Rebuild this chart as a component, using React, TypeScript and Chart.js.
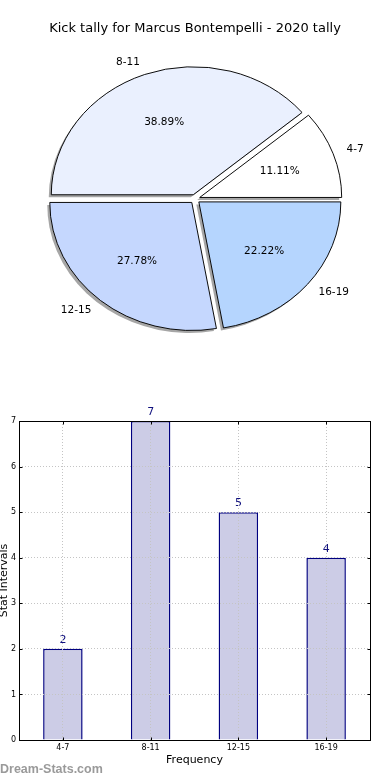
import React, { useEffect, useRef } from "react";
import { Chart, registerables } from "chart.js";

Chart.register(...registerables);

// ---------- data ----------
const TITLE = "Kick tally for Marcus Bontempelli - 2020 tally";
const categories = ["4-7", "8-11", "12-15", "16-19"];
const counts = [2, 7, 5, 4];
const pieColors = ["#ffffff", "#eaf0fe", "#c5d7fe", "#b5d5fe"];
const yTickValues = [0, 1, 2, 3, 4, 5, 6, 7];
const Y_LABEL = "Stat Intervals";
const X_LABEL = "Frequency";
const WATERMARK = "Dream-Stats.com";

// ---------- styling ----------
const FONT = "'DejaVu Sans', sans-serif";
const ELLIPSE = 128 / 142;
const PIE_RADIUS = 142;
const EXPLODE_PX = 5;
const SHADOW_DX = -2.5;
const SHADOW_DY = 2.5;
const TICK_LEN = 3;

// matplotlib draws counter-clockwise from east; chart.js draws clockwise -> reverse order
const pieOrder = categories.map((_, i) => i).reverse();
const total = counts.reduce((a, b) => a + b, 0);

function arcGeom(arc: any) {
  const p = arc.getProps(["x", "y", "startAngle", "endAngle", "outerRadius"], true);
  const mid = (p.startAngle + p.endAngle) / 2;
  return { ...p, off: EXPLODE_PX, mid, r: p.outerRadius };
}

const piePlugin = {
  id: "pieDecor",
  afterDatasetsUpdate(chart: any) {
    const meta = chart.getDatasetMeta(0);
    meta.data.forEach((arc: any) => {
      if (arc.__exploded) return;
      const orig = arc.draw;
      arc.draw = function (ctx: CanvasRenderingContext2D, area: any) {
        const mid = (this.startAngle + this.endAngle) / 2;
        ctx.save();
        ctx.translate(Math.cos(mid) * EXPLODE_PX, Math.sin(mid) * EXPLODE_PX);
        orig.call(this, ctx, area);
        ctx.restore();
      };
      arc.__exploded = true;
    });
  },
  beforeDatasetsDraw(chart: any) {
    const ctx = chart.ctx;
    const ca = chart.chartArea;
    const cx = (ca.left + ca.right) / 2;
    const cy = (ca.top + ca.bottom) / 2;
    const meta = chart.getDatasetMeta(0);
    // shadow pass
    ctx.save();
    ctx.translate(SHADOW_DX, SHADOW_DY);
    ctx.translate(cx, cy);
    ctx.scale(1, ELLIPSE);
    ctx.translate(-cx, -cy);
    ctx.fillStyle = "#a6a6a6";
    meta.data.forEach((arc: any) => {
      const g = arcGeom(arc);
      const ox = g.x + Math.cos(g.mid) * g.off;
      const oy = g.y + Math.sin(g.mid) * g.off;
      ctx.beginPath();
      ctx.moveTo(ox, oy);
      ctx.arc(ox, oy, g.r, g.startAngle, g.endAngle);
      ctx.closePath();
      ctx.fill();
    });
    ctx.restore();
    // ellipse transform for the slices
    ctx.save();
    ctx.translate(cx, cy);
    ctx.scale(1, ELLIPSE);
    ctx.translate(-cx, -cy);
  },
  afterDatasetsDraw(chart: any) {
    chart.ctx.restore();
  },
  afterDraw(chart: any) {
    const ctx = chart.ctx;
    const ca = chart.chartArea;
    const cx = (ca.left + ca.right) / 2;
    const cy = (ca.top + ca.bottom) / 2;
    const meta = chart.getDatasetMeta(0);
    ctx.save();
    ctx.fillStyle = "#000";
    ctx.font = `13px ${FONT}`;
    ctx.textAlign = "center";
    ctx.textBaseline = "middle";
    ctx.fillText(TITLE, cx, 29);
    ctx.font = `10.5px ${FONT}`;
    meta.data.forEach((arc: any, j: number) => {
      const idx = pieOrder[j];
      const g = arcGeom(arc);
      const R = g.outerRadius;
      const c = Math.cos(g.mid);
      const s = Math.sin(g.mid);
      // percentage (pctdistance 0.6)
      const px = g.x + c * (g.off + 0.6 * R);
      const py = cy + s * (g.off + 0.6 * R) * ELLIPSE;
      ctx.textAlign = "center";
      ctx.fillText(((counts[idx] / total) * 100).toFixed(2) + "%", px, py);
      // category label (labeldistance 1.1)
      const lx = g.x + c * (g.off + 1.1 * R);
      const ly = cy + s * (g.off + 1.1 * R) * ELLIPSE;
      ctx.textAlign = c >= 0 ? "left" : "right";
      ctx.fillText(categories[idx], lx, ly);
    });
    ctx.restore();
  },
};

const barPlugin = {
  id: "barDecor",
  afterDatasetsDraw(chart: any) {
    const ctx = chart.ctx;
    const meta = chart.getDatasetMeta(0);
    ctx.save();
    ctx.fillStyle = "#10107e";
    ctx.font = `11px ${FONT}`;
    ctx.textAlign = "center";
    ctx.textBaseline = "alphabetic";
    meta.data.forEach((bar: any, i: number) => {
      ctx.fillText(String(counts[i]), bar.x, bar.y - 6);
    });
    ctx.restore();
  },
  afterDraw(chart: any) {
    const ctx = chart.ctx;
    const ca = chart.chartArea;
    const L = Math.round(ca.left) + 0.5;
    const T = Math.round(ca.top) + 0.5;
    const Rr = Math.round(ca.right) + 0.5;
    const B = Math.round(ca.bottom) + 0.5;
    ctx.save();
    ctx.strokeStyle = "#000";
    ctx.lineWidth = 1;
    // inward tick marks on all four sides (matplotlib classic style)
    ctx.beginPath();
    const xs = chart.scales.x;
    categories.forEach((_, i) => {
      const px = Math.round(xs.getPixelForValue(i)) + 0.5;
      ctx.moveTo(px, B);
      ctx.lineTo(px, B - TICK_LEN);
      ctx.moveTo(px, T);
      ctx.lineTo(px, T + TICK_LEN);
    });
    const ys = chart.scales.y;
    yTickValues.forEach((v) => {
      const py = Math.round(ys.getPixelForValue(v)) + 0.5;
      ctx.moveTo(L, py);
      ctx.lineTo(L + TICK_LEN, py);
      ctx.moveTo(Rr, py);
      ctx.lineTo(Rr - TICK_LEN, py);
    });
    ctx.stroke();
    ctx.strokeRect(L, T, Rr - L, B - T);
    ctx.restore();
  },
};

export default function App() {
  const pieRef = useRef<HTMLCanvasElement>(null);
  const barRef = useRef<HTMLCanvasElement>(null);

  useEffect(() => {
    Chart.defaults.font.family = FONT;
    Chart.defaults.color = "#000";

    const pie = new Chart(pieRef.current as HTMLCanvasElement, {
      type: "pie",
      data: {
        labels: pieOrder.map((i) => categories[i]),
        datasets: [
          {
            data: pieOrder.map((i) => counts[i]),
            backgroundColor: pieOrder.map((i) => pieColors[i]),
            borderColor: "#000",
            borderWidth: 1,
            offset: 0,
            hoverOffset: 0,
            radius: PIE_RADIUS,
          } as any,
        ],
      },
      options: {
        animation: false,
        responsive: false,
        maintainAspectRatio: false,
        events: [],
        rotation: 90,
        layout: { padding: 0 },
        plugins: { legend: { display: false }, tooltip: { enabled: false }, title: { display: false } },
      } as any,
      plugins: [piePlugin],
    });

    const bar = new Chart(barRef.current as HTMLCanvasElement, {
      type: "bar",
      data: {
        labels: categories,
        datasets: [
          {
            data: counts,
            backgroundColor: "#ccccE6",
            borderColor: "#000080",
            borderWidth: 1.5,
            borderSkipped: "start",
            barPercentage: 0.45,
            categoryPercentage: 1,
          } as any,
        ],
      },
      options: {
        animation: false,
        responsive: false,
        maintainAspectRatio: false,
        events: [],
        layout: { padding: { top: 21, right: 20, left: 0, bottom: 0 } },
        plugins: { legend: { display: false }, tooltip: { enabled: false } },
        scales: {
          x: {
            grid: { display: true, offset: false, color: "#c4c4c4", lineWidth: 1, drawTicks: false, z: 1 },
            border: { display: false, dash: [1, 2] },
            ticks: { color: "#000", font: { size: 8 }, padding: 3, maxRotation: 0, autoSkip: false },
            title: {
              display: true,
              text: X_LABEL,
              color: "#000",
              font: { size: 11 },
              padding: { top: 0, bottom: 13.4 },
            },
            afterFit: (s: any) => {
              s.height = 40;
            },
          },
          y: {
            min: yTickValues[0],
            max: yTickValues[yTickValues.length - 1],
            afterBuildTicks: (s: any) => {
              s.ticks = yTickValues.map((v) => ({ value: v }));
            },
            grid: { display: true, color: "#c4c4c4", lineWidth: 1, drawTicks: false, z: 1 },
            border: { display: false, dash: [1, 2] },
            ticks: { color: "#000", font: { size: 8 }, padding: 3 },
            title: {
              display: true,
              text: Y_LABEL,
              color: "#000",
              font: { size: 11, lineHeight: 0.75 },
              padding: { top: 0, bottom: 0 },
            },
            afterFit: (s: any) => {
              s.width = 19;
            },
          },
        },
      } as any,
      plugins: [barPlugin],
    });

    return () => {
      pie.destroy();
      bar.destroy();
    };
  }, []);

  return (
    <div style={{ position: "absolute", left: 0, top: 0, width: 390, height: 780, background: "#fff", overflow: "hidden" }}>
      <canvas
        ref={pieRef}
        width={390}
        height={398}
        style={{ position: "absolute", left: 0, top: 0, width: 390, height: 398 }}
      />
      <canvas
        ref={barRef}
        width={390}
        height={380}
        style={{ position: "absolute", left: 0, top: 400, width: 390, height: 380 }}
      />
      <div
        style={{
          position: "absolute",
          left: 0,
          top: 763,
          font: "bold 12.5px 'Liberation Sans', Arial, sans-serif",
          lineHeight: "12.5px",
          color: "#9a9a9a",
          whiteSpace: "nowrap",
        }}
      >
        {WATERMARK}
      </div>
    </div>
  );
}
